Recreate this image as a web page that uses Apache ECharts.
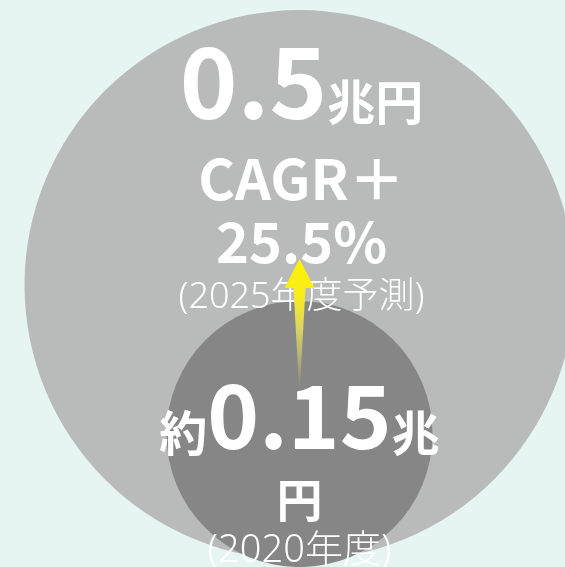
<!DOCTYPE html>
<html><head><meta charset="utf-8">
<script src="https://cdn.jsdelivr.net/npm/echarts@6/dist/echarts.min.js"></script>
<style>html,body{margin:0;padding:0;background:#e6f5f2;}#main{width:565px;height:567px;}</style>
</head><body><div id="main"></div>
<script>
// ---- data ----
const years = ['2020年度', '2025年度予測'];
const marketSize = [0.15, 0.5];          // 兆円
const sizePrefix = ['約', ''];
const unitLabel = '兆円';
const cagrLabel = 'CAGR＋';
const cagrValue = 25.5;                  // %

// ---- styles ----
const FONT = '"Noto Sans CJK JP", "Noto Sans", sans-serif';
const FONT_LIGHT = '"Noto Sans", "Noto Sans CJK JP", sans-serif';
const circleColors = ['#868686', '#b8bbba'];
const circleSizes = [266, 550];
const labelOffsets = [[0, 34], [2, -115]];

const chart = echarts.init(document.getElementById('main'), null, {renderer: 'canvas'});

const richBig = {
  num: {fontSize: 98, fontWeight: 'bold', color: '#fff', fontFamily: FONT, lineHeight: 130},
  unit: {fontSize: 48, fontWeight: 'bold', color: '#fff', fontFamily: FONT, padding: [40, 0, 0, 0]},
  cagr: {fontSize: 56, fontWeight: 'bold', color: '#fff', fontFamily: FONT, lineHeight: 64},
  pct: {fontSize: 56, fontWeight: 'bold', color: '#fff', fontFamily: FONT, lineHeight: 62},
  note: {fontSize: 36, fontWeight: 300, color: '#fff', fontFamily: FONT_LIGHT, lineHeight: 50}
};
const richSmall = {
  pre: {fontSize: 48, fontWeight: 'bold', color: '#fff', fontFamily: FONT, padding: [34, 0, 0, 0]},
  num: {fontSize: 88, fontWeight: 'bold', color: '#fff', fontFamily: FONT, lineHeight: 116},
  unit: {fontSize: 48, fontWeight: 'bold', color: '#fff', fontFamily: FONT, padding: [34, 0, 0, 0]},
  unit2: {fontSize: 46, fontWeight: 'bold', color: '#fff', fontFamily: FONT, lineHeight: 50},
  note: {fontSize: 38, fontWeight: 300, color: '#fff', fontFamily: FONT_LIGHT, lineHeight: 54}
};

function labelText(i) {
  if (i === 1) {
    return `{num|${marketSize[i]}}{unit|${unitLabel}}\n{cagr|${cagrLabel}}\n{pct|${cagrValue}%}\n{note|(${years[i]})}`;
  }
  return `{pre|${sizePrefix[i]}}{num|${marketSize[i]}}{unit|${unitLabel[0]}}\n{unit2|${unitLabel[1]}}\n{note|(${years[i]})}`;
}

// draw larger bubble first
const order = marketSize.map((v, i) => i).sort((a, b) => marketSize[b] - marketSize[a]);
const scatterData = order.map(i => ({
  value: [0, marketSize[i]],
  symbolSize: circleSizes[i],
  itemStyle: {color: circleColors[i], opacity: 1},
  label: {
    show: true, position: 'inside', formatter: labelText(i),
    offset: labelOffsets[i], align: 'center', verticalAlign: 'middle',
    rich: i === 1 ? richBig : richSmall
  }
}));

const arrowStyle = {baseGap: 49, tipGap: 26, headLength: 29, headHalf: 15, shaftHalf: 6};

chart.setOption({
  animation: false,
  backgroundColor: '#e6f5f2',
  grid: {left: 34, right: 0, top: 0, bottom: 0},
  xAxis: {type: 'value', min: -1, max: 1, show: false},
  yAxis: {type: 'value', min: -0.1623, max: 1.1696, show: false},
  series: [
    {
      type: 'scatter', symbol: 'circle', clip: false, z: 2,
      data: scatterData,
      emphasis: {disabled: true}
    },
    {
      type: 'custom', coordinateSystem: 'cartesian2d', z: 5, clip: false,
      data: [[0, marketSize[0], marketSize[1]]],
      renderItem(params, api) {
        const from = api.coord([api.value(0), api.value(1)]);
        const to = api.coord([api.value(0), api.value(2)]);
        const x = from[0];
        const baseY = from[1] - arrowStyle.baseGap;
        const tipY = to[1] - arrowStyle.tipGap;
        const hb = tipY + arrowStyle.headLength;
        return {
          type: 'polygon',
          shape: {points: [
            [x - 0.6, baseY], [x - arrowStyle.shaftHalf, hb], [x - arrowStyle.headHalf, hb],
            [x, tipY], [x + arrowStyle.headHalf, hb], [x + arrowStyle.shaftHalf, hb], [x + 0.6, baseY]
          ]},
          style: {
            fill: new echarts.graphic.LinearGradient(0, 0, 0, 1, [
              {offset: 0, color: '#fff200'},
              {offset: 0.3, color: '#f8ec20'},
              {offset: 0.55, color: '#dcd468'},
              {offset: 1, color: '#8e8c84'}
            ])
          }
        };
      }
    }
  ]
});
</script></body></html>
